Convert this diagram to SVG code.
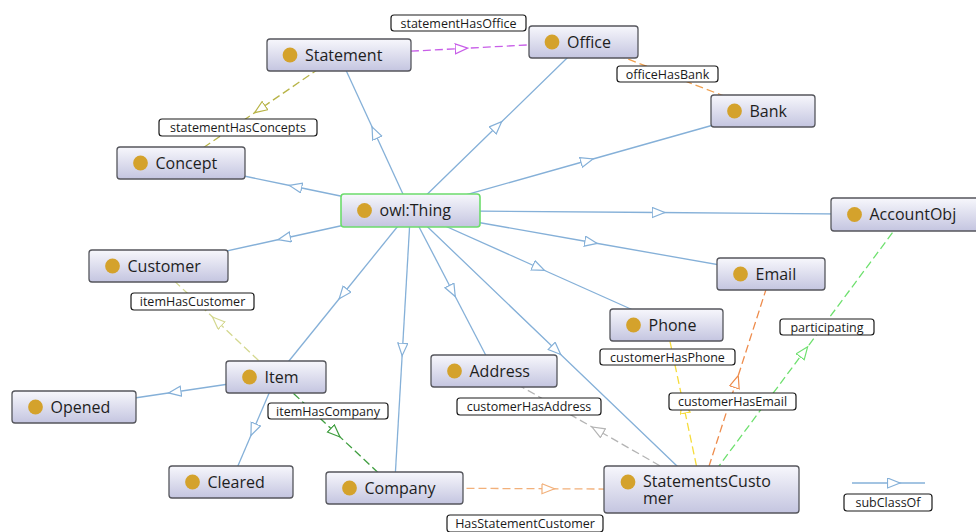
<svg xmlns="http://www.w3.org/2000/svg" width="976" height="532" viewBox="0 0 976 532">
<defs>
<linearGradient id="ng" x1="0" y1="0" x2="0" y2="1">
<stop offset="0" stop-color="#f7f7fc"/>
<stop offset="1" stop-color="#c4c5e0"/>
</linearGradient>
<marker id="mSub" markerUnits="userSpaceOnUse" markerWidth="15" markerHeight="12" refX="6.5" refY="5.5" orient="auto"><path d="M0.5,0.5 L13,5.5 L0.5,10.5 z" fill="#fff" stroke="#85b0d8" stroke-width="1.2"/></marker>
<marker id="mPurple" markerUnits="userSpaceOnUse" markerWidth="15" markerHeight="12" refX="6.5" refY="5.5" orient="auto"><path d="M0.5,0.5 L13,5.5 L0.5,10.5 z" fill="#fff" stroke="#c85ee8" stroke-width="1.2"/></marker>
<marker id="mOrange" markerUnits="userSpaceOnUse" markerWidth="15" markerHeight="12" refX="6.5" refY="5.5" orient="auto"><path d="M0.5,0.5 L13,5.5 L0.5,10.5 z" fill="#fff" stroke="#f0a050" stroke-width="1.2"/></marker>
<marker id="mOlive" markerUnits="userSpaceOnUse" markerWidth="15" markerHeight="12" refX="6.5" refY="5.5" orient="auto"><path d="M0.5,0.5 L13,5.5 L0.5,10.5 z" fill="#fff" stroke="#b8b448" stroke-width="1.2"/></marker>
<marker id="mPale" markerUnits="userSpaceOnUse" markerWidth="15" markerHeight="12" refX="6.5" refY="5.5" orient="auto"><path d="M0.5,0.5 L13,5.5 L0.5,10.5 z" fill="#fff" stroke="#d4d890" stroke-width="1.2"/></marker>
<marker id="mDkGreen" markerUnits="userSpaceOnUse" markerWidth="15" markerHeight="12" refX="6.5" refY="5.5" orient="auto"><path d="M0.5,0.5 L13,5.5 L0.5,10.5 z" fill="#fff" stroke="#3f9e3f" stroke-width="1.2"/></marker>
<marker id="mLtOrange" markerUnits="userSpaceOnUse" markerWidth="15" markerHeight="12" refX="6.5" refY="5.5" orient="auto"><path d="M0.5,0.5 L13,5.5 L0.5,10.5 z" fill="#fff" stroke="#f2b07a" stroke-width="1.2"/></marker>
<marker id="mGray" markerUnits="userSpaceOnUse" markerWidth="15" markerHeight="12" refX="6.5" refY="5.5" orient="auto"><path d="M0.5,0.5 L13,5.5 L0.5,10.5 z" fill="#fff" stroke="#b4b4b4" stroke-width="1.2"/></marker>
<marker id="mYellow" markerUnits="userSpaceOnUse" markerWidth="15" markerHeight="12" refX="6.5" refY="5.5" orient="auto"><path d="M0.5,0.5 L13,5.5 L0.5,10.5 z" fill="#fff" stroke="#f6dc3c" stroke-width="1.2"/></marker>
<marker id="mEmail" markerUnits="userSpaceOnUse" markerWidth="15" markerHeight="12" refX="6.5" refY="5.5" orient="auto"><path d="M0.5,0.5 L13,5.5 L0.5,10.5 z" fill="#fff" stroke="#ee8c4c" stroke-width="1.2"/></marker>
<marker id="mGreen" markerUnits="userSpaceOnUse" markerWidth="15" markerHeight="12" refX="6.5" refY="5.5" orient="auto"><path d="M0.5,0.5 L13,5.5 L0.5,10.5 z" fill="#fff" stroke="#6ee06e" stroke-width="1.2"/></marker>
</defs>
<style>
.node rect{fill:url(#ng);stroke:#55565c;stroke-width:1.3}
.node.thing rect{stroke:#6cdc6c;stroke-width:1.6}
.dot{fill:#d4a22c}
.nt{font-family:"Open Sans","Liberation Sans",sans-serif;font-size:16px;fill:#1e1e1e}
.sub{fill:none;stroke:#85b0d8;stroke-width:1.3;marker-mid:url(#mSub)}
.prop{fill:none;stroke-width:1.3;stroke-dasharray:8 4}
.lbl rect{fill:#fff;stroke:#1a1a1a;stroke-width:1.2}
.lbl text{font-family:"Open Sans","Liberation Sans",sans-serif;font-size:12.5px;fill:#1a1a1a;text-anchor:middle}
</style>
<rect width="976" height="532" fill="#fff"/>
<g id="connectors">
<path class="sub" d="M410.5,210.5 L374.75,132.75 L339,55"/>
<path class="sub" d="M410.5,210.5 L497,126.25 L583.5,42"/>
<path class="sub" d="M410.5,210.5 L586.75,160.75 L763,111"/>
<path class="sub" d="M410.5,210.5 L295.75,186.75 L181,163"/>
<path class="sub" d="M410.5,210.5 L658.25,212.5 L906,214.5"/>
<path class="sub" d="M410.5,210.5 L284.5,238.25 L158.5,266"/>
<path class="sub" d="M410.5,210.5 L590.75,242.25 L771,274"/>
<path class="sub" d="M410.5,210.5 L538.5,267.75 L666.5,325"/>
<path class="sub" d="M410.5,210.5 L343.25,293.75 L276,377"/>
<path class="sub" d="M410.5,210.5 L452.25,290.75 L494,371"/>
<path class="sub" d="M410.5,210.5 L402.5,349.25 L394.5,488"/>
<path class="sub" d="M410.5,210.5 L556,350 L701.5,489.5"/>
<path class="sub" d="M276,377 L175,392 L74,407"/>
<path class="sub" d="M276,377 L253.5,429.5 L231,482"/>
<path class="prop" stroke="#c85ee8" marker-mid="url(#mPurple)" d="M339,55 L461.25,48.5 L583.5,42"/>
<path class="prop" stroke="#f0a050" marker-mid="url(#mOrange)" d="M583.5,42 L673.25,76.5 L763,111"/>
<path class="prop" stroke="#b8b448" marker-mid="url(#mOlive)" d="M339,55 L260,109 L181,163"/>
<path class="prop" stroke="#d4d890" marker-mid="url(#mPale)" d="M276,377 L217.25,321.5 L158.5,266"/>
<path class="prop" stroke="#3f9e3f" marker-mid="url(#mDkGreen)" d="M276,377 L335.25,432.5 L394.5,488"/>
<path class="prop" stroke="#f2b07a" marker-mid="url(#mLtOrange)" d="M394.5,488 L548,488.75 L701.5,489.5"/>
<path class="prop" stroke="#b4b4b4" marker-mid="url(#mGray)" d="M701.5,489.5 L597.75,430.25 L494,371"/>
<path class="prop" stroke="#f6dc3c" marker-mid="url(#mYellow)" d="M701.5,489.5 L684,407.25 L666.5,325"/>
<path class="prop" stroke="#ee8c4c" marker-mid="url(#mEmail)" d="M701.5,489.5 L736.25,381.75 L771,274"/>
<path class="prop" stroke="#6ee06e" marker-mid="url(#mGreen)" d="M701.5,489.5 L803.75,352 L906,214.5"/>
<path class="sub" d="M852,483 L893.5,483 L925,483"/>
<g class="lbl"><rect x="391" y="15" width="135" height="16" rx="3"/><text x="458.5" y="27.5">statementHasOffice</text></g>
<g class="lbl"><rect x="617" y="66" width="101" height="16" rx="3"/><text x="667.5" y="78.5">officeHasBank</text></g>
<g class="lbl"><rect x="159" y="119" width="158" height="17" rx="3"/><text x="238" y="132">statementHasConcepts</text></g>
<g class="lbl"><rect x="131" y="293" width="123" height="17" rx="3"/><text x="192.5" y="306">itemHasCustomer</text></g>
<g class="lbl"><rect x="268" y="403" width="120" height="16" rx="3"/><text x="328" y="415.5">itemHasCompany</text></g>
<g class="lbl"><rect x="457" y="398" width="144" height="17" rx="3"/><text x="529" y="411">customerHasAddress</text></g>
<g class="lbl"><rect x="600" y="349" width="135" height="16" rx="3"/><text x="667.5" y="361.5">customerHasPhone</text></g>
<g class="lbl"><rect x="780" y="319" width="94" height="16" rx="3"/><text x="827" y="331.5">participating</text></g>
<g class="lbl"><rect x="669" y="393" width="127" height="17" rx="3"/><text x="732.5" y="406">customerHasEmail</text></g>
<g class="lbl"><rect x="447" y="515" width="156" height="17" rx="3"/><text x="525" y="528">HasStatementCustomer</text></g>
<g class="lbl"><rect x="844" y="494" width="88" height="17" rx="3"/><text x="888" y="507">subClassOf</text></g>
</g>
<g id="node-statement" class="node"><rect x="267" y="39" width="144" height="32" rx="3"/><circle class="dot" cx="290" cy="55" r="7.4"/><text class="nt" x="305" y="60.5">Statement</text></g>
<g id="node-office" class="node"><rect x="529" y="26" width="109" height="32" rx="3"/><circle class="dot" cx="552" cy="42" r="7.4"/><text class="nt" x="567" y="47.5">Office</text></g>
<g id="node-bank" class="node"><rect x="711" y="95" width="104" height="32" rx="3"/><circle class="dot" cx="734.5" cy="111" r="7.4"/><text class="nt" x="749.5" y="116.5">Bank</text></g>
<g id="node-concept" class="node"><rect x="117" y="147" width="128" height="32" rx="3"/><circle class="dot" cx="140.5" cy="163" r="7.4"/><text class="nt" x="155.5" y="168.5">Concept</text></g>
<g id="node-thing" class="node thing"><rect x="341" y="194" width="139" height="33" rx="3"/><circle class="dot" cx="364.5" cy="210.5" r="7.4"/><text class="nt" x="379.5" y="216">owl:Thing</text></g>
<g id="node-accountobj" class="node"><rect x="831" y="198" width="150" height="33" rx="3"/><circle class="dot" cx="854.5" cy="214.5" r="7.4"/><text class="nt" x="869.5" y="220">AccountObj</text></g>
<g id="node-customer" class="node"><rect x="89" y="250" width="139" height="32" rx="3"/><circle class="dot" cx="112.5" cy="266" r="7.4"/><text class="nt" x="127.5" y="271.5">Customer</text></g>
<g id="node-email" class="node"><rect x="717" y="258" width="108" height="32" rx="3"/><circle class="dot" cx="740.5" cy="274" r="7.4"/><text class="nt" x="755.5" y="279.5">Email</text></g>
<g id="node-phone" class="node"><rect x="610" y="309" width="113" height="32" rx="3"/><circle class="dot" cx="633.5" cy="325" r="7.4"/><text class="nt" x="648.5" y="330.5">Phone</text></g>
<g id="node-item" class="node"><rect x="226" y="361" width="100" height="32" rx="3"/><circle class="dot" cx="249.5" cy="377" r="7.4"/><text class="nt" x="264.5" y="382.5">Item</text></g>
<g id="node-address" class="node"><rect x="431" y="355" width="126" height="32" rx="3"/><circle class="dot" cx="454.5" cy="371" r="7.4"/><text class="nt" x="469.5" y="376.5">Address</text></g>
<g id="node-opened" class="node"><rect x="12" y="391" width="124" height="32" rx="3"/><circle class="dot" cx="35.5" cy="407" r="7.4"/><text class="nt" x="50.5" y="412.5">Opened</text></g>
<g id="node-cleared" class="node"><rect x="169" y="466" width="124" height="32" rx="3"/><circle class="dot" cx="192.5" cy="482" r="7.4"/><text class="nt" x="207.5" y="487.5">Cleared</text></g>
<g id="node-company" class="node"><rect x="326" y="472" width="137" height="32" rx="3"/><circle class="dot" cx="349.5" cy="488" r="7.4"/><text class="nt" x="364.5" y="493.5">Company</text></g>
<g id="node-statementscustomer" class="node"><rect x="604" y="466" width="195" height="47" rx="3"/><circle class="dot" cx="628" cy="482" r="7.4"/><text class="nt" x="643" y="486.5">StatementsCusto<tspan x="643" dy="17">mer</tspan></text></g>
</svg>
